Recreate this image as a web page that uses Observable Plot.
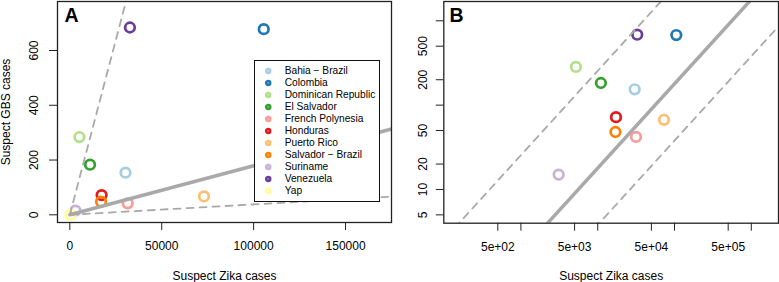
<!DOCTYPE html>
<html>
<head>
<meta charset="utf-8">
<script src="https://cdn.jsdelivr.net/npm/d3@7"></script>
<script src="https://cdn.jsdelivr.net/npm/@observablehq/plot@0.6"></script>
<style>
  html, body { margin: 0; padding: 0; background: white; }
  #wrap { position: relative; width: 779px; height: 282px; overflow: hidden; font-family: "Liberation Sans", Arial, Helvetica, sans-serif; }
  #panelA { position: absolute; left: 0; top: 0; }
  #panelB { position: absolute; left: 392px; top: 0; }
  #legend { position: absolute; left: 254px; top: 60px; width: 126px; height: 142px; box-sizing: border-box;
            border: 1.3px solid #111; background: white; padding-top: 4.4px; }
  .row { height: 11.93px; line-height: 11.93px; font-size: 10.2px; color: #000; white-space: nowrap; position: relative; }
  .row svg { position: absolute; left: 7.5px; top: 0; }
  .row span { position: absolute; left: 29.7px; top: 0; }
  svg { overflow: visible; }
</style>
</head>
<body>
<div id="wrap">
  <div id="panelA"></div>
  <div id="panelB"></div>
  <div id="legend"></div>
</div>
<script>
// ---- data ----
const countries = ["Bahia \u2212 Brazil", "Colombia", "Dominican Republic", "El Salvador", "French Polynesia",
                   "Honduras", "Puerto Rico", "Salvador \u2212 Brazil", "Suriname", "Venezuela", "Yap"];
const colors = ["#A6CEE3", "#1F78B4", "#B2DF8A", "#33A02C", "#FB9A99",
                "#E31A1C", "#FDBF6F", "#FF7F00", "#CAB2D6", "#6A3D9A", "#FFFF99"];
const zikaCases = [30300, 105500, 5200, 11000, 31500, 17300, 73000, 17000, 3100, 32700, 300];
const gbsCases  = [154, 678, 284, 183, 42, 72, 67, 48, 15, 684, 0];

// GBS per Zika case ratios (fitted estimate and bounds)
const ratioEstimate = 0.00179;
const ratioLower = 0.00038;
const ratioUpper = 0.0255;

// ticks
const xTicksA = [0, 50000, 100000, 150000];
const xLabelsA = ["0", "50000", "100000", "150000"];
const yTicksA = [0, 200, 400, 600];
const yLabelsA = ["0", "200", "400", "600"];
const xTicksB = [500, 1000, 5000, 10000, 50000, 100000, 500000, 1000000];
const xLabelTicksB = [500, 5000, 50000, 500000];
const xLabelsB = ["5e+02", "5e+03", "5e+04", "5e+05"];
const yTicksB = [5, 10, 20, 50, 100, 200, 500, 1000];
const yLabelTicksB = [5, 10, 20, 50, 200, 500];
const yLabelsB = ["5", "10", "20", "50", "200", "500"];

// ---- build tables ----
const points = countries.map((c, i) => ({country: c, color: colors[i], zika: zikaCases[i], gbs: gbsCases[i]}));
const linesA = [
  {k: "est", r: ratioEstimate}, {k: "lo", r: ratioLower}, {k: "hi", r: ratioUpper}
].flatMap(d => [0, 2.5e6].map(x => ({k: d.k, x, y: d.r * x})));
const linesB = [
  {k: "est", r: ratioEstimate}, {k: "lo", r: ratioLower}, {k: "hi", r: ratioUpper}
].flatMap(d => [10, 1e7].map(x => ({k: d.k, x, y: d.r * x})));

const font = "'Liberation Sans', Arial, Helvetica, sans-serif";
const gray = "#A9A9A9";

const common = {
  height: 282,
  marginTop: 1,
  style: {fontFamily: font, fontSize: "12px", background: "transparent", overflow: "visible", color: "#000"}
};

const pointMarks = (data) => [
  Plot.dot(data, {x: "zika", y: "gbs", r: 4.8, stroke: "color", strokeWidth: 2.7, fill: "none"})
];
const lineMarks = (data) => [
  Plot.line(data.filter(d => d.k === "est"), {x: "x", y: "y", stroke: gray, strokeWidth: 3.5, clip: true}),
  Plot.line(data.filter(d => d.k === "lo"), {x: "x", y: "y", stroke: gray, strokeWidth: 1.8, strokeDasharray: "7,6", clip: true}),
  Plot.line(data.filter(d => d.k === "hi"), {x: "x", y: "y", stroke: gray, strokeWidth: 1.8, strokeDasharray: "7,6", clip: true})
];

// ---- Panel A ----
const plotA = Plot.plot({
  ...common,
  width: 392,
  marginLeft: 57,
  marginRight: 1,
  marginBottom: 60,
  x: {type: "linear", domain: [-6700, 175000]},
  y: {type: "linear", domain: [-28.1, 779]},
  color: {type: "identity"},
  marks: [
    ...pointMarks(points),
    ...lineMarks(linesA),
    Plot.frame({stroke: "#222", strokeWidth: 1.3}),
    Plot.axisX({ticks: xTicksA, tickSize: 8, tickFormat: () => "", label: null, stroke: "#222"}),
    Plot.axisY({ticks: yTicksA, tickSize: 8, tickFormat: () => "", label: null, stroke: "#222"}),
    Plot.text(xTicksA, {x: d => d, frameAnchor: "bottom", dy: 24, text: (d, i) => xLabelsA[i], fontSize: 12, lineAnchor: "middle", fill: "#000"}),
    Plot.text(yTicksA, {y: d => d, frameAnchor: "left", dx: -23.7, rotate: -90, text: (d, i) => yLabelsA[i], fontSize: 12, textAnchor: "middle", lineAnchor: "middle", fill: "#000"}),
    Plot.text(["Suspect Zika cases"], {frameAnchor: "bottom", dy: 53.3, text: d => d, fontSize: 12, lineAnchor: "middle", fill: "#000"}),
    Plot.text(["Suspect GBS cases"], {frameAnchor: "left", dx: -51.3, rotate: -90, text: d => d, fontSize: 12, lineAnchor: "middle", textAnchor: "middle", fill: "#000"}),
    Plot.text(["A"], {frameAnchor: "top-left", dx: 7, dy: 7, text: d => d, fontSize: 19.5, fontWeight: "bold", textAnchor: "start", lineAnchor: "top", fill: "#000"})
  ]
});
document.getElementById("panelA").appendChild(plotA);

// ---- Panel B ----
const plotB = Plot.plot({
  ...common,
  width: 387,
  marginLeft: 51.3,
  marginRight: 1,
  marginBottom: 59.3,
  x: {type: "log", domain: [99, 2.26e6]},
  y: {type: "log", domain: [3.98, 1694]},
  color: {type: "identity"},
  marks: [
    ...pointMarks(points.filter(d => d.gbs > 0)),
    ...lineMarks(linesB),
    Plot.frame({stroke: "#222", strokeWidth: 1.3}),
    Plot.axisX({ticks: xTicksB, tickSize: 8, tickFormat: () => "", label: null, stroke: "#222"}),
    Plot.axisY({ticks: yTicksB, tickSize: 7.5, tickFormat: () => "", label: null, stroke: "#222"}),
    Plot.text(xLabelTicksB, {x: d => d, frameAnchor: "bottom", dy: 24, text: (d, i) => xLabelsB[i], fontSize: 12, lineAnchor: "middle", fill: "#000"}),
    Plot.text(yLabelTicksB, {y: d => d, frameAnchor: "left", dx: -20.5, rotate: -90, text: (d, i) => yLabelsB[i], fontSize: 12, textAnchor: "middle", lineAnchor: "middle", fill: "#000"}),
    Plot.text(["Suspect Zika cases"], {frameAnchor: "bottom", dy: 53, text: d => d, fontSize: 12, lineAnchor: "middle", fill: "#000"}),
    Plot.text(["B"], {frameAnchor: "top-left", dx: 5.7, dy: 7, text: d => d, fontSize: 19.5, fontWeight: "bold", textAnchor: "start", lineAnchor: "top", fill: "#000"})
  ]
});
document.getElementById("panelB").appendChild(plotB);

// ---- Legend (panel A) ----
const legend = document.getElementById("legend");
countries.forEach((c, i) => {
  const row = document.createElement("div");
  row.className = "row";
  row.innerHTML = `<svg width="11.93" height="11.93" viewBox="0 0 11.93 11.93"><circle cx="5.2" cy="5.97" r="2.2" fill="${colors[i]}" fill-opacity="0.75" stroke="${colors[i]}" stroke-width="2.2"></circle></svg><span></span>`;
  row.querySelector("span").textContent = c;
  legend.appendChild(row);
});
</script>
</body>
</html>
